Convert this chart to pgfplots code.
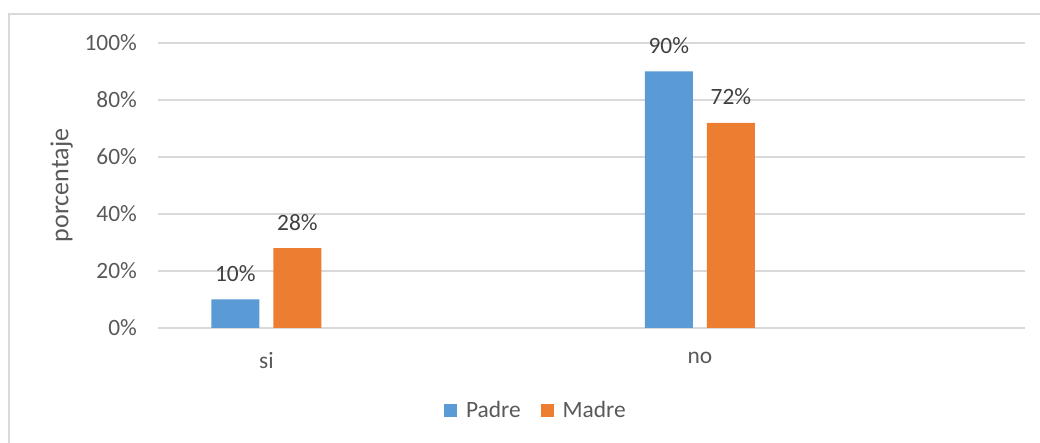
\documentclass[border=0pt]{standalone}
\usepackage{pgfplots}
\pgfplotsset{compat=1.18}
\usepackage{fontspec}
\setmainfont{Carlito}
\definecolor{cblue}{HTML}{5B9BD5}
\definecolor{corange}{HTML}{ED7D31}
\definecolor{cgrid}{HTML}{D9D9D9}
\definecolor{ctext}{HTML}{595959}
\definecolor{clabel}{HTML}{404040}
\begin{document}
\begin{tikzpicture}[font=\fontsize{11.7}{14}\selectfont]
\path[use as bounding box] (0pt,0pt) rectangle (520pt,221.5pt);
\draw[cgrid, line width=0.75pt] (4.5pt,-1pt) -- (4.5pt,214.5pt) -- (521pt,214.5pt);
\begin{axis}[
  at={(79pt,57.5pt)}, anchor=south west,
  scale only axis, width=433.5pt, height=142.5pt,
  ybar, bar width=0.111,
  xmin=-0.25, xmax=1.75, ymin=0, ymax=100,
  xtick={0,1}, xticklabels={si,no},
  ytick={0,20,40,60,80,100},
  yticklabels={0\%,20\%,40\%,60\%,80\%,100\%},
  axis line style={draw=none},
  major tick length=0pt,
  ymajorgrids, grid style={cgrid, line width=0.75pt},
  tick label style={text=ctext},
  yticklabel style={xshift=-7pt},
  xticklabel style={yshift=-8.5pt},
  ylabel={porcentaje},
  every axis y label/.style={at={(rel axis cs:-0.111,0.5)}, rotate=90, anchor=center, font=\fontsize{13}{15}\selectfont, text=ctext},
  /pgf/number format/assume math mode=true,
  nodes near coords={\pgfmathprintnumber{\pgfplotspointmeta}\%},
  every node near coord/.append style={anchor=center, yshift=13pt, text=clabel},
  legend columns=2,
  legend style={draw=none, at={(0.437,-0.291)}, anchor=center, text=ctext,
    /tikz/every odd column/.append style={column sep=2.5pt},
    /tikz/every even column/.append style={column sep=8pt}},
  legend image code/.code={\path[#1,draw=none] (0pt,-3.25pt) rectangle (6.5pt,3.25pt);},
]
\addplot[fill=cblue, draw=none, bar shift=-0.0716] coordinates {(0,10) (1,90)};
\addplot[fill=corange, draw=none, bar shift=0.0716] coordinates {(0,28) (1,72)};
\legend{Padre,Madre}
\end{axis}
\end{tikzpicture}
\end{document}
